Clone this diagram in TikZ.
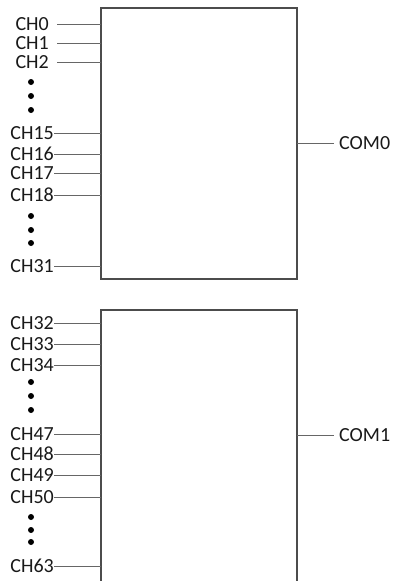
\documentclass[tikz,border=0pt]{standalone}
\usepackage{fontspec}
\setmainfont{Carlito}
\begin{document}
\begin{tikzpicture}[x=1pt,y=-1pt,
  lbl/.style={anchor=east,inner sep=0pt,font=\fontsize{20}{20}\selectfont,text=black!90},
  com/.style={anchor=west,inner sep=0pt,font=\fontsize{20}{20}\selectfont,text=black!90},
  wire/.style={draw=black!60,line width=1pt},
  boxst/.style={draw=black!70,line width=1.2pt},
  dotst/.style={fill=black,draw=none,circle,inner sep=0pt,minimum size=6pt}]
\path[use as bounding box] (0,0) rectangle (395,581);
\clip (0,0) rectangle (395,581);
% boxes
\draw[boxst] (101,8) rectangle (297,279);
\draw[boxst] (101,310) rectangle (297,600);
% inputs
\foreach \n/\y/\s in {0/24/1,1/43/1,2/62/1,15/133/0,16/154/0,17/173/0,18/195/0,31/266/0,
                       32/323/0,33/344/0,34/365/0,47/434/0,48/454/0,49/475/0,50/497/0,63/566/0}{
  \ifnum\s=1
    \node[lbl] (ch\n) at (49,\y) {CH\n};
    \coordinate (s\n) at ([xshift=8pt]ch\n.east);
  \else
    \node[lbl] (ch\n) at (54,\y) {CH\n};
    \coordinate (s\n) at (ch\n.east);
  \fi
  \coordinate (e\n) at (101,\y);
  \draw[wire] (s\n) -- (e\n);
}
% dots
\foreach \i/\y in {a/82,b/96,c/110,d/216,e/230,f/243,g/382,h/396,i/410,j/517,k/530,l/542}{
  \node[dotst] (dot\i) at (31,\y) {};
}
% outputs
\coordinate (o0) at (297,143);
\node[com] (com0) at (339,143) {COM0};
\draw[wire] (o0) -- ([xshift=-5pt]com0.west);
\coordinate (o1) at (297,435);
\node[com] (com1) at (339,435) {COM1};
\draw[wire] (o1) -- ([xshift=-5pt]com1.west);
\end{tikzpicture}
\end{document}
